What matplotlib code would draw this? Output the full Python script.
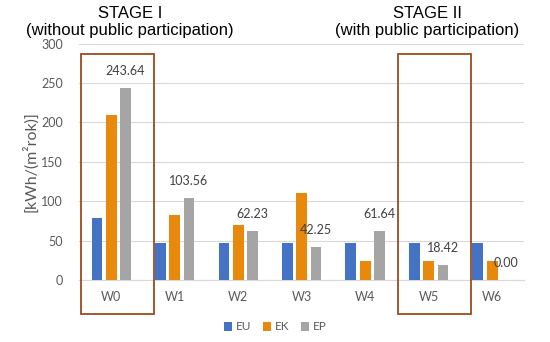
import numpy as np
import matplotlib.pyplot as plt
from matplotlib.patches import Rectangle

categories = ['W0', 'W1', 'W2', 'W3', 'W4', 'W5', 'W6']
eu = [79, 47, 47, 47, 47, 47, 47]
ek = [210, 83, 70, 111, 24, 24, 24]
ep = [243.64, 103.56, 62.23, 42.25, 61.64, 18.42, 0.00]

colors = {'EU': '#4472C4', 'EK': '#E8890C', 'EP': '#A5A5A5'}
grey_txt = '#595959'
box_col = '#9C4A1E'

plt.rcParams['font.family'] = ['Lato', 'DejaVu Sans']

fig = plt.figure(figsize=(5.5, 3.42), dpi=100)
ax = fig.add_axes([0.1445, 0.1813, 0.808, 0.6912])

x = np.arange(len(categories))
w = 0.17
step = 0.225
ax.bar(x - step, eu, w, color=colors['EU'], label='EU', zorder=3)
ax.bar(x, ek, w, color=colors['EK'], label='EK', zorder=3)
ax.bar(x + step, ep, w, color=colors['EP'], label='EP', zorder=3)

# labels only on the EP series
for xi, v in zip(x, ep):
    ax.annotate(f'{v:.2f}', (xi + step, v), xytext=(0, 8), textcoords='offset points',
                ha='center', va='bottom', fontsize=9, color='#404040', zorder=4)

ax.set_xlim(-0.5, len(categories) - 0.5)
ax.set_ylim(0, 300)
ax.set_yticks(np.arange(0, 301, 50))
ax.set_xticks(x)
ax.set_xticklabels(categories)
ax.tick_params(axis='both', length=0, colors=grey_txt, labelsize=9)
ax.tick_params(axis='x', pad=8)
ax.tick_params(axis='y', pad=12)
ax.grid(axis='y', color='#D9D9D9', linewidth=0.8, zorder=0)
for s in ['top', 'right', 'left']:
    ax.spines[s].set_visible(False)
ax.spines['bottom'].set_color('#D9D9D9')
ax.set_ylabel('[kWh/(m²rok)]', color=grey_txt, fontsize=11.5, labelpad=2)

# stage boxes
for xc in [0, 5]:
    ax.add_patch(Rectangle((xc - 0.48, -43), 1.15, 330, fill=False, edgecolor=box_col,
                           linewidth=1.3, clip_on=False, zorder=5))

fig.text(130 / 550, 1 - 13 / 342, 'STAGE I', ha='center', va='center',
         fontsize=12, family='Liberation Sans')
fig.text(130 / 550, 1 - 31 / 342, '(without public participation)', ha='center', va='center',
         fontsize=12, family='Liberation Sans')
fig.text(427.5 / 550, 1 - 13 / 342, 'STAGE II', ha='center', va='center',
         fontsize=12, family='Liberation Sans')
fig.text(427.5 / 550, 1 - 31 / 342, '(with public participation)', ha='center', va='center',
         fontsize=12, family='Liberation Sans')

fig.legend(loc='center', bbox_to_anchor=(0.5, 1 - 327 / 342), ncol=3, frameon=False,
           fontsize=8.5, handlelength=0.7, handleheight=0.7, handletextpad=0.3,
           columnspacing=1.0, labelcolor=grey_txt)

fig.savefig('out.png', dpi=100)
